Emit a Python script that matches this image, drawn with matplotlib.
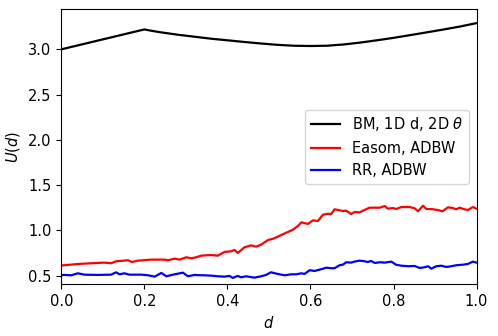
import matplotlib
matplotlib.use('Agg')
import matplotlib.pyplot as plt
from matplotlib import rcParams

# black curve: BM, 1D d, 2D theta
BM_D = [0.0, 0.1, 0.2, 0.22, 0.24, 0.28, 0.32, 0.36, 0.40, 0.44, 0.48, 0.52, 0.56,
        0.60, 0.64, 0.68, 0.72, 0.76, 0.80, 0.84, 0.88, 0.92, 0.96, 1.0]
BM_U = [3.0, 3.11, 3.22, 3.203, 3.188, 3.162, 3.140, 3.118, 3.100, 3.082, 3.065, 3.050,
        3.040, 3.037, 3.040, 3.054, 3.075, 3.100, 3.127, 3.157, 3.188, 3.219, 3.252, 3.29]

# red curve: Easom, ADBW
EASOM_D = [0.0, 0.008, 0.040, 0.072, 0.104, 0.120, 0.132, 0.161, 0.170, 0.185, 0.217,
           0.249, 0.257, 0.273, 0.285, 0.301, 0.313, 0.325, 0.337, 0.361, 0.377, 0.393,
           0.409, 0.417, 0.425, 0.441, 0.457, 0.469, 0.481, 0.498, 0.510, 0.526, 0.542,
           0.558, 0.570, 0.578, 0.594, 0.606, 0.618, 0.630, 0.642, 0.650, 0.658, 0.670,
           0.678, 0.686, 0.698, 0.706, 0.718, 0.730, 0.742, 0.767, 0.779, 0.786, 0.799,
           0.806, 0.819, 0.839, 0.851, 0.859, 0.871, 0.879, 0.891, 0.907, 0.918, 0.931,
           0.943, 0.951, 0.959, 0.971, 0.979, 0.991, 1.0]
EASOM_U = [0.612, 0.615, 0.629, 0.637, 0.644, 0.637, 0.659, 0.670, 0.651, 0.666, 0.677,
           0.677, 0.670, 0.688, 0.677, 0.703, 0.692, 0.703, 0.721, 0.728, 0.721, 0.762,
           0.769, 0.784, 0.751, 0.813, 0.835, 0.820, 0.842, 0.894, 0.908, 0.941, 0.975,
           1.008, 1.049, 1.089, 1.071, 1.111, 1.104, 1.173, 1.184, 1.181, 1.233, 1.222,
           1.214, 1.218, 1.181, 1.203, 1.199, 1.225, 1.251, 1.251, 1.269, 1.240, 1.247,
           1.236, 1.258, 1.258, 1.244, 1.211, 1.273, 1.236, 1.236, 1.225, 1.211, 1.255,
           1.247, 1.233, 1.251, 1.233, 1.225, 1.258, 1.240]

# blue curve: RR, ADBW
RR_D = [0.0, 0.008, 0.024, 0.040, 0.056, 0.088, 0.120, 0.132, 0.140, 0.152, 0.164,
        0.193, 0.209, 0.225, 0.241, 0.253, 0.269, 0.293, 0.305, 0.321, 0.337, 0.345,
        0.361, 0.377, 0.393, 0.405, 0.413, 0.425, 0.433, 0.445, 0.465, 0.481, 0.493,
        0.505, 0.521, 0.538, 0.554, 0.566, 0.578, 0.586, 0.598, 0.610, 0.626, 0.638,
        0.650, 0.658, 0.670, 0.678, 0.686, 0.698, 0.706, 0.718, 0.730, 0.738, 0.746,
        0.755, 0.767, 0.779, 0.795, 0.806, 0.819, 0.835, 0.851, 0.863, 0.875, 0.883,
        0.891, 0.903, 0.915, 0.927, 0.939, 0.951, 0.967, 0.979, 0.991, 1.0]
RR_U = [0.505, 0.508, 0.504, 0.526, 0.511, 0.508, 0.511, 0.537, 0.515, 0.526, 0.511,
        0.511, 0.504, 0.489, 0.530, 0.493, 0.511, 0.533, 0.493, 0.508, 0.504, 0.504,
        0.500, 0.493, 0.489, 0.497, 0.475, 0.497, 0.482, 0.493, 0.478, 0.493, 0.508,
        0.537, 0.519, 0.504, 0.515, 0.515, 0.526, 0.519, 0.560, 0.552, 0.571, 0.588,
        0.582, 0.582, 0.615, 0.621, 0.648, 0.644, 0.655, 0.666, 0.659, 0.651, 0.662,
        0.640, 0.648, 0.644, 0.655, 0.621, 0.610, 0.604, 0.607, 0.585, 0.593, 0.604,
        0.577, 0.604, 0.610, 0.596, 0.604, 0.615, 0.621, 0.629, 0.655, 0.644]

LABELS = ['BM, 1D d, 2D $\\theta$', 'Easom, ADBW', 'RR, ADBW']


def main():
    rcParams['font.size'] = 10.5
    fig = plt.figure(figsize=(4.98, 3.36), dpi=100)
    ax = fig.add_axes([0.123, 0.154, 0.834, 0.819])

    ax.plot(BM_D, BM_U, color='k', lw=1.6, label=LABELS[0])
    ax.plot(EASOM_D, EASOM_U, color='r', lw=1.6, label=LABELS[1])
    ax.plot(RR_D, RR_U, color='b', lw=1.6, label=LABELS[2])

    ax.set_xlim(0.0, 1.0)
    ax.set_ylim(0.405, 3.445)
    ax.set_xticks([0.0, 0.2, 0.4, 0.6, 0.8, 1.0])
    ax.set_yticks([0.5, 1.0, 1.5, 2.0, 2.5, 3.0])
    ax.set_xlabel('$d$')
    ax.set_ylabel('$U(d)$')
    ax.legend(loc='center right')

    fig.savefig('out.png', dpi=100)


if __name__ == '__main__':
    main()
